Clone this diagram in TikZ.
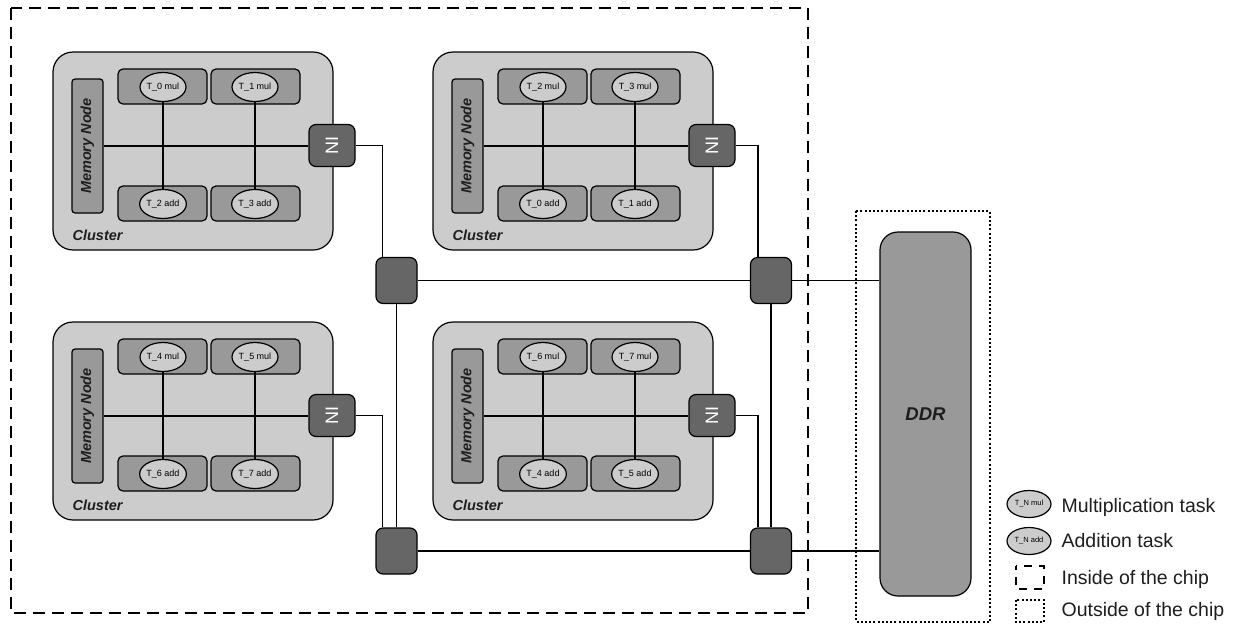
\documentclass[tikz,border=0pt]{standalone}
\usepackage{fontspec}
\setmainfont{Liberation Sans}
\usetikzlibrary{shapes.geometric}
\definecolor{clfill}{HTML}{CCCCCC}
\definecolor{midfill}{HTML}{999999}
\definecolor{darkfill}{HTML}{666666}
\definecolor{txt}{HTML}{1E1E1E}
\tikzset{
  cluster/.style={draw, fill=clfill, rounded corners=20pt, minimum width=280pt, minimum height=198pt, inner sep=0pt},
  clusterlabel/.style={inner sep=0pt, text=txt, font={\fontsize{14.5}{16}\selectfont\bfseries\itshape}},
  memnode/.style={draw, fill=midfill, rounded corners=3pt, minimum width=134pt, minimum height=31pt, inner sep=0pt, text=txt, font={\fontsize{14.5}{16}\selectfont\bfseries\itshape}},
  corebox/.style={draw, fill=midfill, rounded corners=5pt, minimum width=89pt, minimum height=35pt, inner sep=0pt},
  task/.style={draw, ellipse, fill=clfill, minimum width=42pt, minimum height=29pt, inner sep=0pt, font={\fontsize{9}{10}\selectfont}},
  legtask/.style={draw, ellipse, fill=clfill, minimum width=44pt, minimum height=27pt, inner sep=0pt, font={\fontsize{7.5}{8}\selectfont}},
  nibox/.style={draw, fill=darkfill, rounded corners=7pt, minimum width=42pt, minimum height=46pt, inner sep=0pt, text=white, font={\fontsize{18}{20}\selectfont}},
  router/.style={draw, fill=darkfill, rounded corners=7pt, minimum width=41pt, minimum height=46pt, inner sep=0pt},
  ddrbox/.style={draw, fill=midfill, rounded corners=18pt, minimum width=91pt, minimum height=364pt, inner sep=0pt, text=txt, font={\fontsize{18.5}{20}\selectfont\bfseries\itshape}},
  legtext/.style={anchor=west, inner sep=0pt, text=txt, font={\fontsize{19.5}{21}\selectfont}},
  wire/.style={line width=1.2pt}
}
\newcommand{\mkcluster}[7]{%
  \begin{scope}[shift={(#2,#3)}]
    \node[cluster] (#1) at (193,151) {};
    \node[clusterlabel, anchor=base west] (#1lab) at (72,240) {Cluster};
    \node[memnode, rotate=90] (#1mem) at (87.5,146) {Memory Node};
    \node[corebox] (#1ba) at (162.5,86.5) {};
    \node[corebox] (#1bb) at (255.5,86.5) {};
    \node[corebox] (#1bc) at (162.5,203.5) {};
    \node[corebox] (#1bd) at (255.5,203.5) {};
    \node[task] (#1ta) at (163,87) {#4};
    \node[task] (#1tb) at (255,87) {#5};
    \node[task] (#1tc) at (163,204) {#6};
    \node[task] (#1td) at (255,204) {#7};
    \node[nibox, rotate=90] (#1ni) at (332,145.5) {NI};
    \draw[wire] (#1ta.south) -- (#1tc.north);
    \draw[wire] (#1tb.south) -- (#1td.north);
    \draw[wire] (#1mem.south |- 0,146) -- (#1ni.north |- 0,146);
  \end{scope}}
\begin{document}
\begin{tikzpicture}[x=1pt,y=-1pt,line width=1.2pt]
\useasboundingbox (0,0) rectangle (1235,625);
\fill[white] (0,0) rectangle (1235,625);
% chip and outside boxes
\draw[line width=1.4pt, dash pattern=on 12pt off 7pt] (11,8) rectangle (808,613);
\draw[line width=1.4pt, dash pattern=on 2pt off 2.2pt] (856,211) rectangle (990,622);
% clusters
\mkcluster{ca}{0}{0}{T\_0 mul}{T\_1 mul}{T\_2 add}{T\_3 add}
\mkcluster{cb}{380}{0}{T\_2 mul}{T\_3 mul}{T\_0 add}{T\_1 add}
\mkcluster{cc}{0}{270}{T\_4 mul}{T\_5 mul}{T\_6 add}{T\_7 add}
\mkcluster{cd}{380}{270}{T\_6 mul}{T\_7 mul}{T\_4 add}{T\_5 add}
% routers
\node[router] (ra) at (396.5,280.5) {};
\node[router] (rb) at (771,280.5) {};
\node[router] (rc) at (396.5,551) {};
\node[router] (rd) at (771,551) {};
% DDR
\node[ddrbox] (ddr) at (925.5,414) {DDR};
% connections
\draw[wire] (cani.south) -| ([xshift=-14pt]ra.north);
\draw[wire] (cbni.south) -| ([xshift=-13pt]rb.north);
\draw[wire] (ccni.south) -| ([xshift=-14pt]rc.north);
\draw[wire] (cdni.south) -| ([xshift=-13pt]rd.north);
\draw[wire] (ra.east) -- (rb.west);
\draw[wire] (rc.east) -- (rd.west);
\draw[wire] (ra.south) -- (rc.north);
\draw[wire] (rb.south) -- (rd.north);
\draw[wire] (rb.east) -- (rb.east -| ddr.west);
\draw[wire] (rd.east) -- (rd.east -| ddr.west);
% legend
\node[legtask] (lmul) at (1029,504) {T\_N mul};
\node[legtask] (ladd) at (1029,541) {T\_N add};
\node[legtext] (tmul) at (1061,507) {Multiplication task};
\node[legtext] (tadd) at (1061,541) {Addition task};
\node[legtext] (tin) at (1061,579) {Inside of the chip};
\node[legtext] (tout) at (1061,611) {Outside of the chip};
\draw[line width=1.4pt, dash pattern=on 8pt off 7pt, dash phase=4pt] (1016,566) rectangle (1044,589);
\draw[line width=1.2pt, dash pattern=on 2pt off 2.2pt] (1016,600) rectangle (1044,622);
\end{tikzpicture}
\end{document}
